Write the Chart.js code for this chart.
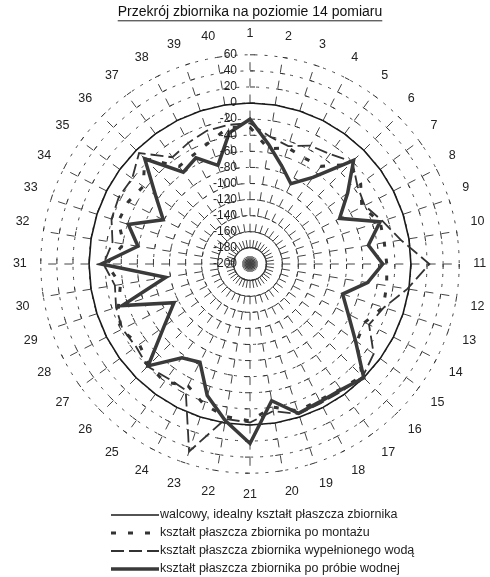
<!DOCTYPE html>
<html>
<head>
<meta charset="utf-8">
<script src="https://cdn.jsdelivr.net/npm/chart.js@4.4.1/dist/chart.umd.min.js"></script>
<style>
  html, body { margin: 0; padding: 0; background: #fff; }
  #wrap { width: 490px; height: 577px; }
</style>
</head>
<body>
<div id="wrap"><canvas id="przekroj" width="490" height="577"></canvas></div>
<script>
// --- dane pomiarowe (odchyłki w mm na 40 punktach obwodu) ---
const tytul = "Przekrój zbiornika na poziomie 14 pomiaru";

const punkty = ["1", "2", "3", "4", "5", "6", "7", "8", "9", "10",
  "11", "12", "13", "14", "15", "16", "17", "18", "19", "20",
  "21", "22", "23", "24", "25", "26", "27", "28", "29", "30",
  "31", "32", "33", "34", "35", "36", "37", "38", "39", "40"];

const skala = [60, 40, 20, 0, -20, -40, -60, -80, -100, -120, -140, -160, -180, -200];

const idealny = [0, 0, 0, 0, 0, 0, 0, 0, 0, 0,
  0, 0, 0, 0, 0, 0, 0, 0, 0, 0,
  0, 0, 0, 0, 0, 0, 0, 0, 0, 0,
  0, 0, 0, 0, 0, 0, 0, 0, 0, 0];

const poMontazu = [-30, -55, -48, -52, -50, -25, -30, -44, -30, -31,
  -30, -28, -26, -40, -36, -3, -8, -10, -8, -20,
  -5, -8, -16, -30, -19, -22, -30, -20, -28, -37,
  -22, -41, -28, -30, -36, -15, -50, -47, -40, -28];

const wypelnionyWoda = [-25, -40, -46, -35, -31, -20, -35, -40, -27, -10,
  23, -2, -25, -34, -10, -2, -5, -6, -4, -15,
  -3, -5, 45, -24, -25, -20, -25, -22, -25, -30,
  -18, -27, -19, -17, -19, -5, -36, -31, -26, -25];

const poProbie = [-20, -50, -72, -88, -67, -18, -50, -75, -30, -51,
  -35, -52, -79, -63, -38, 0, -7, -8, -5, -28,
  23, -3, -28, -63, -56, -21, -68, -94, -33, -94,
  -15, -59, -41, -79, -55, -15, -59, -52, -71, -35];

const opisy = [
  "walcowy, idealny kształt płaszcza zbiornika",
  "kształt płaszcza zbiornika po montażu",
  "kształt płaszcza zbiornika wypełnionego wodą",
  "kształt płaszcza zbiornika po próbie wodnej"
];

const FONT = 'Arial, "Liberation Sans", sans-serif';
Chart.defaults.font.family = FONT;
Chart.defaults.color = "#222";

// znaczniki podziałki na każdym promieniu, opisy osi, podkreślenie tytułu i legenda
const dodatki = {
  id: "dodatki",
  beforeDatasetsDraw(chart) {
    const ctx = chart.ctx;
    const r = chart.scales.r;
    ctx.save();
    ctx.strokeStyle = "#333";
    ctx.lineWidth = 1;
    ctx.beginPath();
    punkty.forEach((_, i) => {
      const phi = r.getIndexAngle(i) - Math.PI / 2;
      const tx = -Math.sin(phi), ty = Math.cos(phi);
      skala.forEach(v => {
        if (v === -200) return;
        const p = r.getPointPositionForValue(i, v);
        ctx.moveTo(p.x, p.y);
        ctx.lineTo(p.x + tx * 5, p.y + ty * 5);
      });
    });
    ctx.stroke();
    ctx.restore();
  },
  afterDraw(chart) {
    const ctx = chart.ctx;
    const r = chart.scales.r;
    ctx.save();

    ctx.font = "12px " + FONT;
    ctx.fillStyle = "#222";
    ctx.textAlign = "right";
    ctx.textBaseline = "middle";
    skala.forEach(v => {
      const d = r.getDistanceFromCenterForValue(v);
      ctx.fillText(String(v), r.xCenter - 13, r.yCenter - d);
    });

    // podkreślenie tytułu
    const tb = chart.titleBlock;
    if (tb) {
      ctx.font = "14px " + FONT;
      const w = ctx.measureText(tytul).width;
      const cx = tb.left + tb.width / 2;
      const y = tb.top + 4 + 16.8;
      ctx.beginPath();
      ctx.lineWidth = 1;
      ctx.strokeStyle = "#222";
      ctx.moveTo(cx - w / 2, y);
      ctx.lineTo(cx + w / 2, y);
      ctx.stroke();
    }

    // legenda
    const wiersze = [515, 533, 551, 569];
    ctx.font = "12.5px " + FONT;
    ctx.textAlign = "left";
    chart.data.datasets.forEach((ds, i) => {
      const y = wiersze[i];
      ctx.beginPath();
      ctx.setLineDash(ds.borderDash || []);
      ctx.lineWidth = ds.borderWidth;
      ctx.strokeStyle = ds.borderColor;
      ctx.moveTo(111, y);
      ctx.lineTo(159, y);
      ctx.stroke();
      ctx.setLineDash([]);
      ctx.fillStyle = "#222";
      ctx.fillText(ds.label, 160, y);
    });
    ctx.restore();
  }
};

new Chart(document.getElementById("przekroj"), {
  type: "radar",
  data: {
    labels: punkty,
    datasets: [
      {
        label: opisy[0],
        data: idealny,
        borderColor: "#1a1a1a",
        borderWidth: 1.6,
        order: 3
      },
      {
        label: opisy[1],
        data: poMontazu,
        borderColor: "#333",
        borderWidth: 3,
        borderDash: [5, 12],
        order: 2
      },
      {
        label: opisy[2],
        data: wypelnionyWoda,
        borderColor: "#333",
        borderWidth: 1.8,
        borderDash: [13, 5],
        order: 1
      },
      {
        label: opisy[3],
        data: poProbie,
        borderColor: "#3a3a3a",
        borderWidth: 3.5,
        order: 0
      }
    ]
  },
  options: {
    responsive: false,
    animation: false,
    devicePixelRatio: 1,
    layout: { padding: { left: 10, right: 0, top: 0, bottom: 73 } },
    elements: {
      point: { radius: 0, hoverRadius: 0 },
      line: { tension: 0, fill: false, backgroundColor: "transparent" }
    },
    plugins: {
      legend: { display: false },
      tooltip: { enabled: false },
      title: {
        display: true,
        text: tytul,
        color: "#111",
        font: { size: 14, weight: "normal" },
        padding: { top: 4, bottom: 5 }
      }
    },
    scales: {
      r: {
        min: -200,
        max: 60,
        ticks: { stepSize: 20, display: false },
        grid: { circular: true, color: "#444", lineWidth: 1 },
        border: { dash: [3, 7] },
        angleLines: { color: "#444", lineWidth: 1, borderDash: [8, 8.15] },
        pointLabels: { font: { size: 12.5 }, color: "#222", padding: 14 }
      }
    }
  },
  plugins: [dodatki]
});
</script>
</body>
</html>
